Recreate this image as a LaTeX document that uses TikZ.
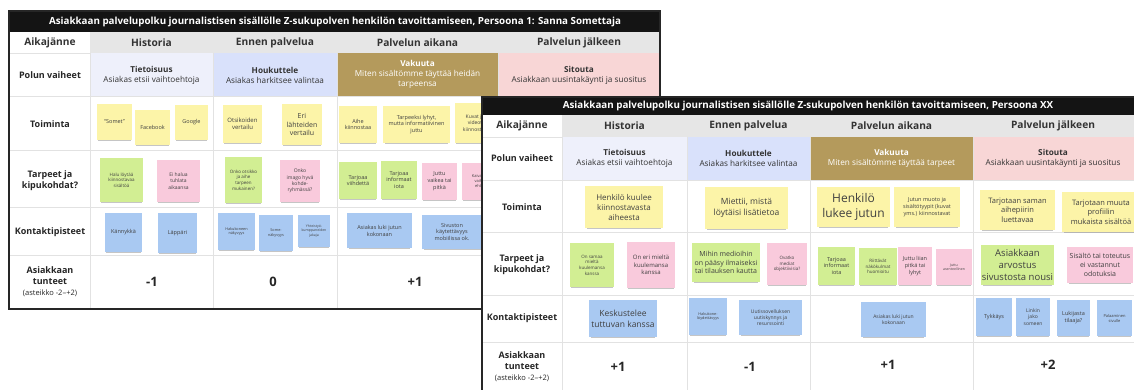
\documentclass[tikz,border=0pt]{standalone}
\usepackage{fontspec}
\setmainfont{Open Sans}
\usepackage{tikz}
\usetikzlibrary{positioning,shadows}
\definecolor{ttl}{HTML}{141414}
\definecolor{hdr}{HTML}{E6E6E6}
\definecolor{grd}{HTML}{E2E2E2}
\definecolor{awa}{HTML}{EEF0FB}
\definecolor{att}{HTML}{D9E1FB}
\definecolor{cnv}{HTML}{B49A5C}
\definecolor{eng}{HTML}{F8D6D6}
\definecolor{sy}{HTML}{FCF4A8}
\definecolor{sg}{HTML}{D2EE93}
\definecolor{sp}{HTML}{F9CADC}
\definecolor{sb}{HTML}{A9C9F2}

\begin{document}
\begin{tikzpicture}[x=1pt,y=-1pt,
  ttltxt/.style={font=\fontsize{9.8}{12}\selectfont\bfseries,text=white},
  colhd/.style={font=\fontsize{10.2}{12}\selectfont\bfseries,text=black!80},
  rowlbl/.style={font=\fontsize{9}{11}\selectfont\bfseries,align=center,text=black!85},
  phase/.style={font=\fontsize{8.2}{10}\selectfont,align=center,text=black!80},
  score/.style={font=\fontsize{13}{15}\selectfont\bfseries,text=black!85},
  frame/.style={draw=black!85,line width=1.4pt},
  note/.style={inner sep=1pt,align=center,text=black!75,
    drop shadow={shadow xshift=0pt,shadow yshift=-2.2pt,shadow scale=0.95,opacity=0.45}}]
\useasboundingbox (0,0) rectangle (1134,390);
\clip (0,0) rectangle (1134,390);
\fill[white] (0,0) rectangle (1134,390);

% BACK TABLE
\fill[white] (9,11) rectangle (660,309);
\fill[hdr] (90,32) rectangle (660,53);
\fill[awa] (90,53) rectangle (213,96);
\fill[att] (213,53) rectangle (337,96);
\fill[cnv] (337,53) rectangle (498,96);
\fill[eng] (498,53) rectangle (660,96);
\draw[grd] (9,53) -- (90,53);
\foreach \yy in {96,150,207,255}{ \draw[grd] (9,\yy) -- (660,\yy); }
\foreach \xx in {90,213,337,498}{ \draw[grd] (\xx,53) -- (\xx,309); }
\fill[ttl] (9,11) rectangle (660,32);
\node[ttltxt] (b-title) at (335,21.5)
  {Asiakkaan palvelupolku journalistisen sisällölle Z-sukupolven henkilön tavoittamiseen, Persoona 1: Sanna Somettaja};
\foreach \nm/\xx/\txt in {hist/151.5/Historia, enn/275/Ennen palvelua, aik/417.5/Palvelun aikana, jal/579/Palvelun jälkeen}{
  \node[colhd] (b-\nm) at (\xx,42.5) {\txt};
}
\node[colhd] (b-aika) at (50,42.5) {Aikajänne};
\foreach \nm/\yy/\txt in {pol/75/Polun vaiheet, toi/124/Toiminta,
    tar/181/{Tarpeet ja\\kipukohdat?}, kon/232/Kontaktipisteet,
    tun/282/{Asiakkaan\\tunteet\\{\mdseries\fontsize{7.5}{10}\selectfont(asteikko -2–+2)}}}{
  \node[rowlbl] (b-\nm) at (50,\yy) {\txt};
}
\node[phase] (b-tie) at (151.5,75) {\textbf{Tietoisuus}\\Asiakas etsii vaihtoehtoja};
\node[phase] (b-hou) at (275,75) {\textbf{Houkuttele}\\Asiakas harkitsee valintaa};
\node[phase,text=white] (b-vak) at (417.5,74.5) {\textbf{Vakuuta}\\Miten sisältömme täyttää heidän\\tarpeensa};
\node[phase] (b-sit) at (579,75) {\textbf{Sitouta}\\Asiakkaan uusintakäynti ja suositus};
% back notes
\foreach[evaluate=\fs as \bs using \fs*1.25] \nm/\cx/\cy/\w/\h/\col/\fs/\txt in {
  t1/114.5/122/35/36/sy/5.5/{“Somet”},
  t2/152.5/127.5/35/35/sy/5.5/Facebook,
  t3/191.5/122.5/33/35/sy/5.5/Google,
  t4/242.5/124/39/38/sy/6/{Otsikoiden\\vertailu},
  t5/302/124.5/40/41/sy/7/{Eri\\lähteiden\\vertailu},
  t6/358/124.5/38/37/sy/5.5/{Aihe\\kiinnostaa},
  t7/416.5/124.5/67/37/sy/5.5/{Tarpeeksi lyhyt,\\mutta informatiivinen\\juttu},
  t8/475/123/40/40/sy/5/{Kuvat ja\\videot\\kiinnostaa},
  n1/121.5/180/43/44/sg/4.5/{Halu löytää\\kiinnostavaa\\sisältöä},
  n2/178.5/181/43/42/sp/5/{Ei halua\\tuhlata\\aikaansa},
  n3/243.5/180/37/46/sg/4.5/{Onko otsikko\\ja aihe\\tarpeen\\mukainen?},
  n4/300/181/40/42/sp/5/{Onko\\imago hyvä\\kohde-\\ryhmässä?},
  n5/358/180.5/38/37/sg/5.5/{Tarjoaa\\viihdettä},
  n6/399/180/36/38/sg/5.5/{Tarjoaa\\informaat\\iota},
  n7/439.5/181.5/35/37/sp/5.5/{Juttu\\vaikea tai\\pitkä},
  n8/481/181.5/38/37/sp/4/{Kaivataan\\vaihto-\\ehtoja},
  k1/123.5/232.5/37/39/sb/5.5/Kännykkä,
  k2/177.5/233/39/40/sb/5.5/Läppäri,
  k3/236.5/231.5/37/37/sb/3.8/{Hakukoneen\\näkyvyys},
  k4/276/233/34/36/sb/3.8/{Some-\\näkyvyys},
  k5/314/231/32/32/sb/3.5/{Yhteistyö-\\kumppaneiden\\jakaja},
  k6/379.5/230.5/65/35/sb/5.5/{Asiakas luki jutun\\kokonaan},
  k7/452/232/60/34/sb/5.5/{Sivuston\\käytettävyys\\mobiilissa ok.}}{
  \node[note,fill=\col,minimum width=\w,minimum height=\h,font=\fontsize{\fs}{\bs}\selectfont] (b-\nm) at (\cx,\cy) {\txt};
}
\foreach \nm/\xx/\txt in {s1/152/-1, s2/273/0, s3/415/+1}{
  \node[score] (b-\nm) at (\xx,282) {\txt};
}
\draw[frame] (9,11) rectangle (660,309);

% FRONT TABLE
\fill[white] (482,97) rectangle (1140,395);
\fill[hdr] (562,115) rectangle (1140,137);
\fill[awa] (562,137) rectangle (687,180);
\fill[att] (687,137) rectangle (810,180);
\fill[cnv] (810,137) rectangle (973,180);
\fill[eng] (973,137) rectangle (1140,180);
\draw[grd] (482,137) -- (562,137);
\foreach \yy in {180,232,295,342}{ \draw[grd] (482,\yy) -- (1140,\yy); }
\foreach \xx in {562,687,810,973}{ \draw[grd] (\xx,137) -- (\xx,395); }
\fill[ttl] (482,97) rectangle (1140,115);
\node[ttltxt] (f-title) at (808,106)
  {Asiakkaan palvelupolku journalistisen sisällölle Z-sukupolven henkilön tavoittamiseen, Persoona XX};
\foreach \nm/\xx/\txt in {hist/624.5/Historia, enn/748.5/Ennen palvelua, aik/891.5/Palvelun aikana, jal/1053/Palvelun jälkeen}{
  \node[colhd] (f-\nm) at (\xx,126) {\txt};
}
\node[colhd] (f-aika) at (522,126) {Aikajänne};
\foreach \nm/\yy/\txt in {pol/158/Polun vaiheet, toi/207/Toiminta,
    tar/265/{Tarpeet ja\\kipukohdat?}, kon/318/Kontaktipisteet,
    tun/367/{Asiakkaan\\tunteet\\{\mdseries\fontsize{7.5}{10}\selectfont(asteikko -2–+2)}}}{
  \node[rowlbl] (f-\nm) at (522,\yy) {\txt};
}
\node[phase] (f-tie) at (624.5,158) {\textbf{Tietoisuus}\\Asiakas etsii vaihtoehtoja};
\node[phase] (f-hou) at (748.5,158) {\textbf{Houkuttele}\\Asiakas harkitsee valintaa};
\node[phase,text=white] (f-vak) at (891.5,158) {\textbf{Vakuuta}\\Miten sisältömme täyttää tarpeet};
\node[phase] (f-sit) at (1053,158) {\textbf{Sitouta}\\Asiakkaan uusintakäynti ja suositus};
% front notes
\foreach[evaluate=\fs as \bs using \fs*1.25] \nm/\cx/\cy/\w/\h/\col/\fs/\txt in {
  t1/624/207/78/42/sy/8/{Henkilö kuulee\\kiinnostavasta\\aiheesta},
  t2/746.5/208/83/42/sy/8.5/{Miettii, mistä\\löytäisi lisätietoa},
  t3/853.5/207/73/40/sy/12/{Henkilö\\lukee jutun},
  t4/927/207/66/40/sy/5.5/{Jutun muoto ja\\sisältötyypit (kuvat\\yms.) kiinnostavat},
  t5/1017.5/210/75/40/sy/7.5/{Tarjotaan saman\\aihepiirin\\luettavaa},
  t6/1101/212/78/40/sy/7.5/{Tarjotaan muuta\\profiilin\\mukaista sisältöä},
  n1/592/265/44/44/sg/4.5/{On samaa\\mieltä\\kuulemansa\\kanssa},
  n2/651/265/48/46/sp/6/{On eri mieltä\\kuulemansa\\kanssa},
  n3/726/262.5/68/39/sg/7/{Mihin medioihin\\on pääsy ilmaiseksi\\tai tilauksen kautta},
  n4/787/264/40/42/sp/4.5/{Ovatko\\mediat\\objektiivisia?},
  n5/836.5/266/37/38/sg/5.5/{Tarjoaa\\informaat\\iota},
  n6/878/266.5/38/37/sg/4.5/{Riittävät\\näkökulmat\\huomioitu},
  n7/915/266/34/38/sp/5.5/{Juttu liian\\pitkä tai\\lyhyt},
  n8/954/267/36/36/sp/3.5/{Juttu\\asenteellinen},
  n9/1017.5/265/73/40/sg/9.5/{Asiakkaan\\arvostus\\sivustosta nousi},
  n10/1100/265/66/36/sp/7/{Sisältö tai toteutus\\ei vastannut\\odotuksia},
  k1/623/318.5/68/37/sb/8.5/{Keskustelee\\tuttuvan kanssa},
  k2/708/316.5/38/37/sb/3.8/{Hakukone-\\löydettävyys},
  k3/770.5/317.5/63/35/sb/5/{Uutissovelluksen\\uutiskynnys ja\\resurssointi},
  k4/893.5/319.5/65/35/sb/5/{Asiakas luki jutun\\kokonaan},
  k5/994/317/36/38/sb/5.5/Tykkäys,
  k6/1033/317/34/38/sb/5/{Linkin\\jako\\someen},
  k7/1073.5/318/33/36/sb/5.5/{Lukijasta\\tilaaja?},
  k8/1114.5/318/35/36/sb/4/{Palaaminen\\sivulle}}{
  \node[note,fill=\col,minimum width=\w,minimum height=\h,font=\fontsize{\fs}{\bs}\selectfont] (f-\nm) at (\cx,\cy) {\txt};
}
\foreach \nm/\xx/\yy/\txt in {s1/618/367/+1, s2/750/367/-1, s3/888/365/+1, s4/1048/365/+2}{
  \node[score] (f-\nm) at (\xx,\yy) {\txt};
}
\draw[frame] (482,97) rectangle (1140,395);
\end{tikzpicture}
\end{document}
